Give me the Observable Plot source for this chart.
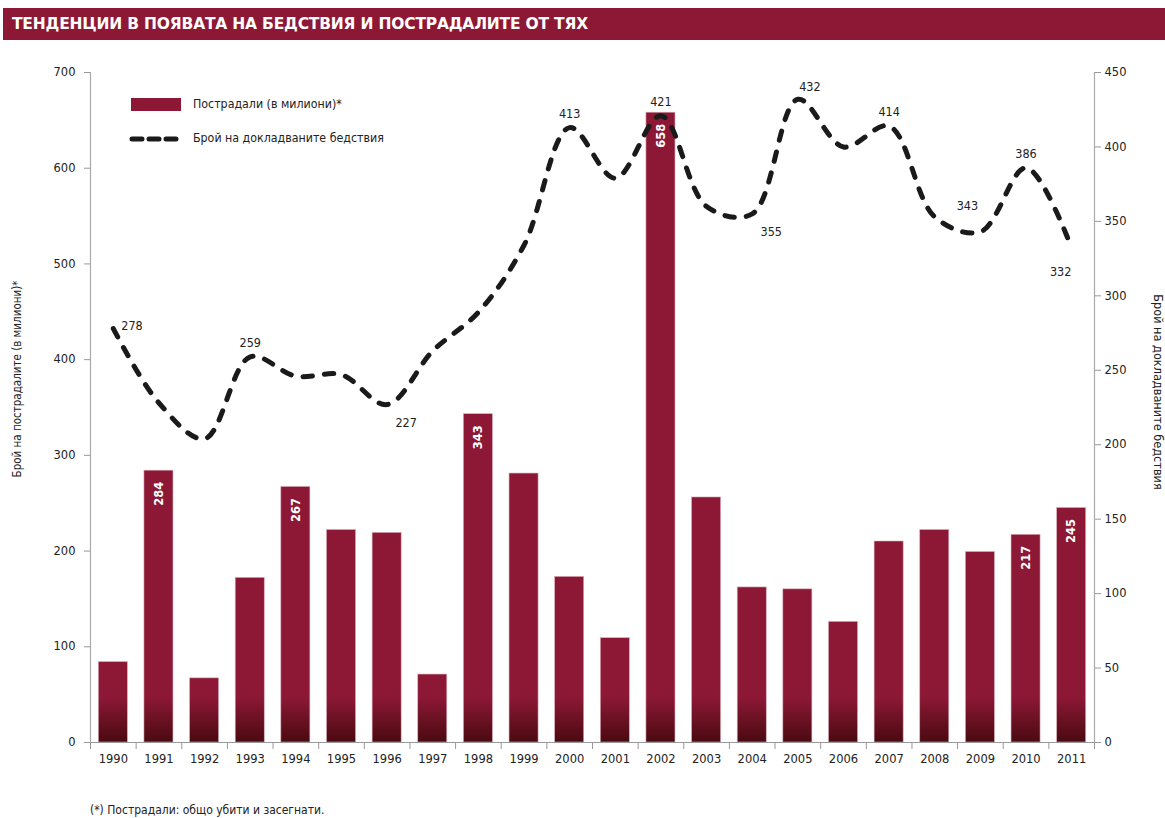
<!DOCTYPE html>
<html>
<head>
<meta charset="utf-8">
<script src="https://cdn.jsdelivr.net/npm/d3@7"></script>
<script src="https://cdn.jsdelivr.net/npm/@observablehq/plot@0.6"></script>
<style>
  html, body { margin: 0; padding: 0; background: #fff; }
  #wrap { position: relative; width: 1165px; height: 818px; overflow: hidden; font-family: "Liberation Sans Narrow", "DejaVu Sans Condensed", "Arial Narrow", sans-serif; }
  #title { position: absolute; left: 3px; top: 8px; width: 1162px; height: 32px; background: #8c1836; color: #fff;
           font-family: "DejaVu Sans", sans-serif; font-weight: bold; font-size: 15.5px; line-height: 32px; padding-left: 9px; box-sizing: border-box; letter-spacing: -0.2px; }
  #chart { position: absolute; left: 0; top: 44px; }
  .lab { position: absolute; white-space: nowrap; font-size: 13px; color: #222; }
  #ylabL { left: 17px; top: 379px; transform: translate(-50%, -50%) rotate(-90deg); font-size: 11.5px; }
  #ylabR { left: 1158px; top: 392px; transform: translate(-50%, -50%) rotate(90deg); font-size: 12.6px; }
  #foot { left: 90px; top: 803px; font-size: 12px; }
  .leg { position: absolute; font-size: 12.3px; color: #222; white-space: nowrap; }
</style>
</head>
<body>
<div id="wrap">
  <div id="title">ТЕНДЕНЦИИ В ПОЯВАТА НА БЕДСТВИЯ И ПОСТРАДАЛИТЕ ОТ ТЯХ</div>
  <div id="chart"></div>
  <div class="leg" style="left:131px;top:98px;width:50px;height:13px;background:#8c1836;"></div>
  <div class="leg" style="left:193px;top:97px;">Пострадали (в милиони)*</div>
  <svg class="leg" style="left:126px;top:132px;" width="60" height="14"><line x1="6" y1="7" x2="54" y2="7" stroke="#1a1a1a" stroke-width="5" stroke-linecap="round" stroke-dasharray="10,7"/></svg>
  <div class="leg" style="left:193px;top:131px;">Брой на докладваните бедствия</div>
  <div class="lab" id="ylabL">Брой на пострадалите (в милиони)*</div>
  <div class="lab" id="ylabR">Брой на докладваните бедствия</div>
  <div class="lab" id="foot">(*) Пострадали: общо убити и засегнати.</div>
</div>
<script>
const years = [1990,1991,1992,1993,1994,1995,1996,1997,1998,1999,2000,2001,2002,2003,2004,2005,2006,2007,2008,2009,2010,2011];
const affected = [84,284,67,172,267,222,219,71,343,281,173,109,658,256,162,160,126,210,222,199,217,245];
const disasters = [278,228,204,259,246,247,227,263,289,334,413,379,421,360,355,432,400,414,353,343,386,332];
const leftTicks = [0,100,200,300,400,500,600,700];
const rightTicks = [0,50,100,150,200,250,300,350,400,450];
const barLabelYears = [1991,1994,1998,2002,2010,2011];
const lineLabelAbove = [1993,2000,2002,2007,2010];
const lineLabelAboveRight = [2005];
const lineLabelAboveLeft = [2009];
const lineLabelBelowRight = [1996,2004];
const lineLabelBelowLeft = [2011];
const lineLabelRight = [1990];

const LEFT_MAX = 700, RIGHT_MAX = 450;
const k = LEFT_MAX / RIGHT_MAX;

const data = years.map((y, i) => ({year: y, affected: affected[i], disasters: disasters[i], dScaled: disasters[i] * k}));
const boundaries = [years[0] - 0.5, ...years.map(y => y + 0.5)];

const numFont = "DejaVu Sans, sans-serif";
const narrow = "Liberation Sans Narrow, DejaVu Sans Condensed, sans-serif";

function lineLabels(list, opts) {
  return Plot.text(data.filter(d => list.includes(d.year)), {x: "year", y: "dScaled", text: d => String(d.disasters),
    fill: "#222", fontSize: 12.5, fontFamily: narrow, ...opts});
}

const chart = Plot.plot({
  width: 1165,
  height: 738,
  marginTop: 28,
  marginBottom: 40,
  marginLeft: 90,
  marginRight: 71,
  style: {fontFamily: numFont, fontSize: "11.5px", color: "#333", background: "transparent"},
  x: {type: "linear", domain: [years[0] - 0.5, years[years.length - 1] + 0.5], axis: null},
  y: {domain: [0, LEFT_MAX], axis: null},
  marks: [
    Plot.rectY(data, {x1: d => d.year - 0.5, x2: d => d.year + 0.5, y: "affected", insetLeft: 8.3, insetRight: 8.3,
      fill: "url(#barGrad)", stroke: "#d9aab6", strokeWidth: 0.6}),
    Plot.text(data.filter(d => barLabelYears.includes(d.year)), {x: "year", y: "affected", text: d => String(d.affected),
      rotate: -90, textAnchor: "end", dy: 11, fill: "white", fontWeight: "bold", fontSize: 11.5, fontFamily: numFont}),
    Plot.line(data, {x: "year", y: "dScaled", curve: "catmull-rom", stroke: "#1a1a1a", strokeWidth: 5,
      strokeDasharray: "9.5,12", strokeLinecap: "round"}),
    lineLabels(lineLabelAbove, {dy: -14}),
    lineLabels(lineLabelAboveRight, {dy: -12, dx: 12}),
    lineLabels(lineLabelAboveLeft, {dy: -26, dx: -13}),
    lineLabels(lineLabelBelowRight, {dy: 18, dx: 19}),
    lineLabels(lineLabelBelowLeft, {dy: 24, dx: -11}),
    lineLabels(lineLabelRight, {dy: -3, dx: 8, textAnchor: "start"}),
    Plot.ruleY([0], {stroke: "#999", strokeWidth: 1.2}),
    Plot.ruleX([boundaries[0]], {stroke: "#aaa", strokeWidth: 1.2}),
    Plot.ruleX([boundaries[boundaries.length - 1]], {stroke: "#aaa", strokeWidth: 1.2}),
    Plot.axisX({ticks: boundaries, tickSize: 7, tickFormat: () => "", stroke: "#999", label: null}),
    Plot.axisX({ticks: years, tickSize: 0, tickPadding: 12, tickFormat: d => String(d), fill: "#222", label: null}),
    Plot.axisY({ticks: leftTicks, anchor: "left", tickSize: 6, tickPadding: 9, stroke: "#999", fill: "#222", tickFormat: d => String(d), label: null}),
    Plot.axisY({ticks: rightTicks.map(v => v * k), anchor: "right", tickSize: 6, tickPadding: 4, stroke: "#999", fill: "#222",
      tickFormat: d => String(Math.round(d / k)), label: null})
  ]
});

// gradient for the darker bar bottoms, positioned from the y scale
const y0 = chart.scale("y").apply(0);
const defs = d3.select(chart).insert("defs", ":first-child");
const g = defs.append("linearGradient").attr("id", "barGrad").attr("gradientUnits", "userSpaceOnUse")
  .attr("x1", 0).attr("x2", 0).attr("y1", y0 - 45).attr("y2", y0);
g.append("stop").attr("offset", 0).attr("stop-color", "#8c1836");
g.append("stop").attr("offset", 1).attr("stop-color", "#4a0a10");

document.getElementById("chart").appendChild(chart);
</script>
</body>
</html>
